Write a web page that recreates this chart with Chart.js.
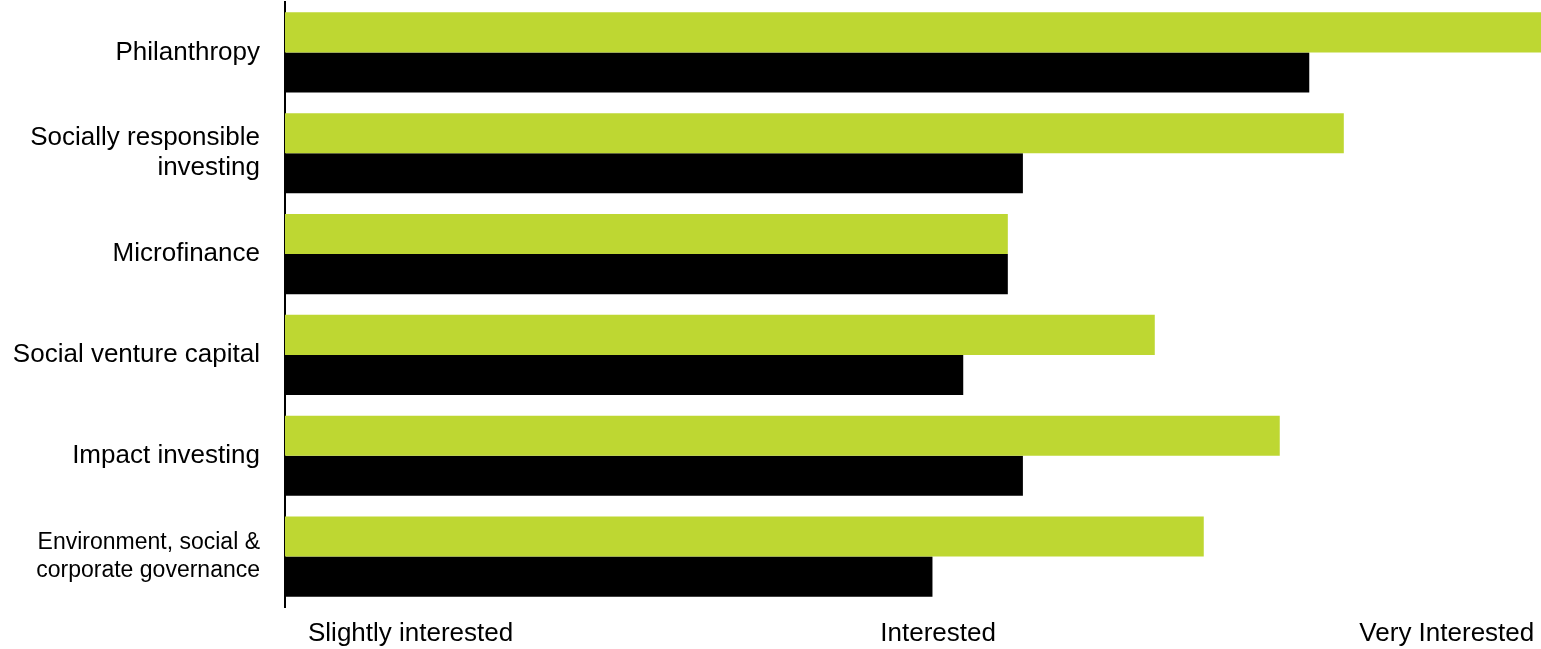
<!DOCTYPE html>
<html>
<head>
<meta charset="utf-8">
<title>Interest by investment approach</title>
<script src="https://cdn.jsdelivr.net/npm/chart.js@4"></script>
<style>
    html, body { margin: 0; padding: 0; background: #fff; }
    #wrap { width: 1541px; height: 649px; position: relative; }
</style>
</head>
<body>
<div id="wrap"><canvas id="interest-chart"></canvas></div>
<script>
// categories, top to bottom
const categories = [
    'Philanthropy',
    ['Socially responsible', 'investing'],
    'Microfinance',
    'Social venture capital',
    'Impact investing',
    ['Environment, social &', 'corporate governance']
]

// interest level: 1 = slightly interested, 2 = interested, 3 = very interested
const greenValues = [3.0, 2.686, 2.151, 2.385, 2.584, 2.463]
const blackValues = [2.631, 2.175, 2.151, 2.080, 2.175, 2.031]

// x axis labels and where they sit on the scale
const tickLabels = ['Slightly interested', 'Interested', 'Very Interested']
const tickValues = [1.2, 2.04, 2.85]

const chartCanva = document.getElementById('interest-chart')

// drop the extra room chart.js keeps for overhanging tick labels
const noEdgePadding = (scale) => {
    scale.paddingTop = 0
    scale.paddingBottom = 0
    scale.paddingLeft = 0
    scale.paddingRight = 0
}

const interestChart = new Chart(chartCanva, {
    type: 'bar',
    data: {
        labels: categories,
        datasets: [{
            label: 'Green',
            data: greenValues,
            backgroundColor: '#bed732',
            borderWidth: 0,
            barPercentage: 1,
            categoryPercentage: 0.795
        }, {
            label: 'Black',
            data: blackValues,
            backgroundColor: '#000000',
            borderWidth: 0,
            barPercentage: 1,
            categoryPercentage: 0.795
        }]
    },
    options: {
        indexAxis: 'y',
        responsive: true,
        maintainAspectRatio: false,
        animation: false,
        layout: {
            padding: { top: 2, right: 0, bottom: 0, left: 0 }
        },
        plugins: {
            legend: { display: false },
            tooltip: { enabled: false }
        },
        scales: {
            x: {
                min: 1,
                max: 3,
                base: 1,
                afterBuildTicks: (scale) => {
                    scale.ticks = tickValues.map(v => ({ value: v }))
                },
                afterFit: (scale) => {
                    noEdgePadding(scale)
                    scale.height = 42
                },
                grid: { display: false, drawTicks: false },
                border: { display: false },
                ticks: {
                    autoSkip: false,
                    maxRotation: 0,
                    padding: 11,
                    color: '#000',
                    font: { family: '"Liberation Sans", Arial, sans-serif', size: 26 },
                    callback: (value, i) => tickLabels[i]
                }
            },
            y: {
                afterFit: (scale) => {
                    noEdgePadding(scale)
                    scale.width = 285
                },
                grid: { display: false, drawTicks: false },
                border: { display: true, color: '#000', width: 2 },
                ticks: {
                    padding: 25,
                    color: '#000',
                    font: (ctx) => ({
                        family: '"Liberation Sans", Arial, sans-serif',
                        size: ctx.index === 5 ? 23 : 26,
                        lineHeight: ctx.index === 5 ? 1.22 : 1.15
                    })
                }
            }
        }
    }
});
</script>
</body>
</html>
